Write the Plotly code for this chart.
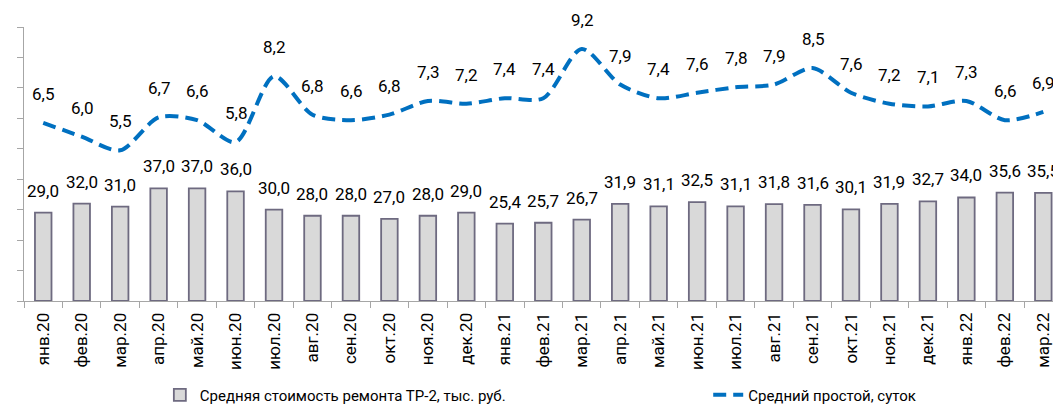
import plotly.graph_objects as go

categories = ["янв.20", "фев.20", "мар.20", "апр.20", "май.20", "июн.20", "июл.20",
              "авг.20", "сен.20", "окт.20", "ноя.20", "дек.20", "янв.21", "фев.21",
              "мар.21", "апр.21", "май.21", "июн.21", "июл.21", "авг.21", "сен.21",
              "окт.21", "ноя.21", "дек.21", "янв.22", "фев.22", "мар.22"]
repair_cost = [29.0, 32.0, 31.0, 37.0, 37.0, 36.0, 30.0, 28.0, 28.0, 27.0, 28.0, 29.0,
               25.4, 25.7, 26.7, 31.9, 31.1, 32.5, 31.1, 31.8, 31.6, 30.1, 31.9, 32.7,
               34.0, 35.6, 35.5]
downtime = [6.5, 6.0, 5.5, 6.7, 6.6, 5.8, 8.2, 6.8, 6.6, 6.8, 7.3, 7.2, 7.4, 7.4,
            9.2, 7.9, 7.4, 7.6, 7.8, 7.9, 8.5, 7.6, 7.2, 7.1, 7.3, 6.6, 6.9]
bar_name = "Средняя стоимость ремонта ТР-2, тыс. руб."
line_name = "Средний простой, суток"

FONT = "Roboto"

def fmt(v):
    return f"{v:.1f}".replace(".", ",")

fig = go.Figure()
fig.add_trace(go.Bar(
    x=categories, y=repair_cost, name=bar_name, width=0.43,
    marker=dict(color="#d9d9d9", line=dict(color="#6e6a80", width=1.8)),
    hoverinfo="skip", legend="legend",
))
fig.add_trace(go.Scatter(
    x=categories, y=downtime, name=line_name, yaxis="y2", mode="lines",
    line=dict(color="#0070c0", width=4, dash="13px,7px", shape="spline", smoothing=0.8),
    hoverinfo="skip", legend="legend2",
))

annotations = []
for c, v in zip(categories, repair_cost):
    annotations.append(dict(x=c, y=v, xref="x", yref="y", text=fmt(v), showarrow=False,
                            yshift=22, font=dict(family=FONT, size=17, color="#000000")))
for c, v in zip(categories, downtime):
    annotations.append(dict(x=c, y=v, xref="x", yref="y2", text=fmt(v), showarrow=False,
                            yshift=29, font=dict(family=FONT, size=17, color="#000000")))

legend_font = dict(family=FONT, size=15, color="#000000")
fig.update_layout(
    width=1053, height=404,
    margin=dict(l=16, r=0, t=19, b=99),
    paper_bgcolor="white", plot_bgcolor="white",
    font=dict(family=FONT, size=17, color="#000000"),
    showlegend=True,
    legend=dict(orientation="h", x=0.131, y=-0.3435, yanchor="middle", xanchor="left",
                font=legend_font, bgcolor="rgba(0,0,0,0)"),
    legend2=dict(orientation="h", x=0.6598, y=-0.3435, yanchor="middle", xanchor="left",
                 font=legend_font, bgcolor="rgba(0,0,0,0)"),
    annotations=annotations,
    xaxis=dict(type="category", range=[-0.5, 26.46], tickangle=-90,
               showline=True, linecolor="#a6a6a6", linewidth=1,
               ticks="outside", ticklen=6, tickcolor="#a6a6a6", tickson="boundaries",
               ticklabelstandoff=4,
               showgrid=False, automargin=False,
               tickfont=dict(family=FONT, size=17, color="#000000")),
    yaxis=dict(range=[0, 90], dtick=10, showticklabels=False, showgrid=False,
               showline=True, linecolor="#a6a6a6", linewidth=1, automargin=False,
               ticks="outside", ticklen=6, tickcolor="#a6a6a6", zeroline=False),
    yaxis2=dict(range=[0, 10], overlaying="y", showticklabels=False,
                showgrid=False, showline=False, ticks="", zeroline=False),
)

fig.write_html("out.html")
